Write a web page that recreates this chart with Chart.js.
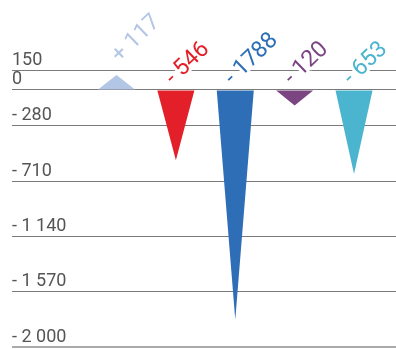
<!DOCTYPE html>
<html>
<head>
<meta charset="utf-8">
<script src="https://cdn.jsdelivr.net/npm/chart.js@4"></script>
<style>
    html, body { margin: 0; padding: 0; background: #fff; }
    #wrap { width: 396px; height: 349px; }
</style>
</head>
<body>
<div id="wrap"><canvas id="balanceChart"></canvas></div>
<script>
// values
const categories = ['A', 'B', 'C', 'D', 'E'];
const values = [117, -546, -1788, -120, -653];
const barColors = ['#b3c6e6', '#e3202a', '#2e6eb6', '#7b4582', '#4bb4cf'];
const tickValues = [-2000, -1570, -1140, -710, -280, 0, 150];

// axis numbers look like "- 1 140"
function tickText(v) {
    if (v === 0) return '0';
    let s = Math.abs(v).toString().replace(/\B(?=(\d{3})+(?!\d))/g, ' ');
    return v < 0 ? '- ' + s : s;
}

// bar labels look like "+ 117" / "- 1788"
function labelText(v) {
    return (v < 0 ? '- ' : '+ ') + Math.abs(v);
}

// Draw each bar as a triangle pointing to its value, then the rotated labels
const triangleBars = {
    id: 'triangleBars',
    afterDatasetsDraw(chart) {
        const ctx = chart.ctx;
        const meta = chart.getDatasetMeta(0);
        meta.data.forEach((bar, i) => {
            const half = bar.width / 2;
            ctx.save();
            ctx.fillStyle = barColors[i];
            ctx.beginPath();
            ctx.moveTo(bar.x - half, bar.base);
            ctx.lineTo(bar.x + half, bar.base);
            ctx.lineTo(bar.x, bar.y);
            ctx.closePath();
            ctx.fill();
            ctx.restore();
        });
        meta.data.forEach((bar, i) => {
            const v = values[i];
            const top = Math.min(bar.y, bar.base);
            const ax = v > 0 ? bar.x + 3 : bar.x - 2.5;
            const ay = v > 0 ? top - 12 : top - 5;
            ctx.save();
            ctx.translate(ax, ay);
            ctx.rotate(-44 * Math.PI / 180);
            ctx.font = '23px Roboto';
            ctx.textAlign = 'left';
            ctx.textBaseline = 'alphabetic';
            ctx.lineJoin = 'round';
            ctx.lineWidth = 6;
            ctx.strokeStyle = '#fff';
            ctx.strokeText(labelText(v), 0, 0);
            ctx.fillStyle = barColors[i];
            ctx.fillText(labelText(v), 0, 0);
            ctx.restore();
        });
    }
};

const chart = new Chart(document.getElementById('balanceChart'), {
    type: 'bar',
    data: {
        labels: categories,
        datasets: [{
            data: values.map((v, i) => ({ x: i, y: v })),
            backgroundColor: 'rgba(0,0,0,0)',
            borderWidth: 0,
            barThickness: 37
        }]
    },
    options: {
        responsive: true,
        maintainAspectRatio: false,
        animation: false,
        layout: { padding: { left: 12, right: 0, top: 0, bottom: 2 } },
        plugins: {
            legend: { display: false },
            tooltip: { enabled: false }
        },
        scales: {
            x: {
                type: 'linear',
                display: false,
                offset: false,
                min: -1.76,
                max: 4.707
            },
            y: {
                min: -2000,
                max: 700,
                afterBuildTicks: function (axis) {
                    axis.ticks = tickValues.map(v => ({ value: v }));
                },
                afterFit: function (axis) {
                    axis.paddingTop = 0;
                    axis.paddingBottom = 0;
                },
                border: { display: false },
                grid: {
                    drawTicks: false,
                    color: ctx => ctx.tick && ctx.tick.value === -2000 ? '#aaaaaa' : '#7a7a7a',
                    lineWidth: ctx => ctx.tick && ctx.tick.value === -2000 ? 2 : 1
                },
                ticks: {
                    mirror: true,
                    padding: 0,
                    labelOffset: -10,
                    color: '#555555',
                    font: { family: 'Roboto', size: 18 },
                    callback: v => tickText(v)
                }
            }
        }
    },
    plugins: [triangleBars]
});
</script>
</body>
</html>
